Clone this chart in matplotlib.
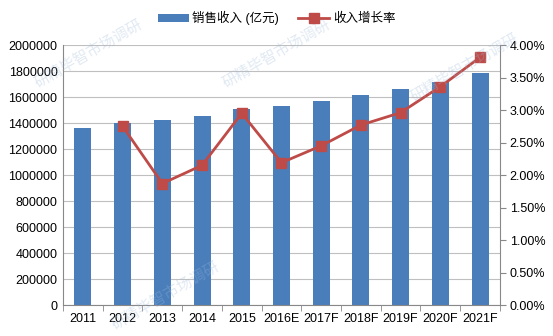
import matplotlib.pyplot as plt
import matplotlib.ticker as mticker
import numpy as np

plt.rcParams['font.family'] = ['Liberation Sans', 'Noto Sans CJK SC', 'DejaVu Sans']

years = ['2011', '2012', '2013', '2014', '2015', '2016E', '2017F', '2018F',
         '2019F', '2020F', '2021F']
revenue = [1364000, 1402000, 1425000, 1456000, 1505000, 1531000, 1569000,
           1615000, 1659000, 1718000, 1782000]
# growth rate in %, first year has no value
growth = [np.nan, 2.75, 1.87, 2.15, 2.95, 2.19, 2.45, 2.77, 2.96, 3.36, 3.81]

bar_color = '#4A7EBB'
line_color = '#BE4B48'

fig = plt.figure(figsize=(5.53, 3.36), dpi=100)
ax = fig.add_axes([0.114, 0.092, 0.79, 0.774])
x = np.arange(len(years))

bars = ax.bar(x, revenue, width=0.43, color=bar_color, zorder=2,
              label='销售收入 (亿元)')
ax.set_ylim(0, 2000000)
ax.set_xlim(-0.5, len(years) - 0.5)
ax.yaxis.set_major_locator(mticker.MultipleLocator(200000))
ax.yaxis.set_major_formatter(mticker.FuncFormatter(lambda v, p: f'{v:.0f}'))
ax.grid(axis='y', color='#BFBFBF', linewidth=0.8, zorder=0)
ax.set_axisbelow(True)

ax.set_xticks(x)
ax.set_xticklabels(years)
ax.set_xticks(np.arange(-0.5, len(years)), minor=True)
ax.tick_params(axis='x', which='major', length=0, pad=6, labelsize=9)
ax.tick_params(axis='x', which='minor', length=4, color='#888888')
ax.tick_params(axis='y', length=0, labelsize=9, pad=4)

for side in ['top', 'right']:
    ax.spines[side].set_visible(False)
ax.spines['left'].set_color('#888888')
ax.spines['bottom'].set_color('#888888')

ax2 = ax.twinx()
line, = ax2.plot(x, growth, color=line_color, linewidth=2, marker='s',
                 markersize=7, zorder=3, label='收入增长率')
ax2.set_ylim(0, 4.0)
ax2.yaxis.set_major_locator(mticker.MultipleLocator(0.5))
ax2.yaxis.set_major_formatter(mticker.FuncFormatter(lambda v, p: f'{v:.2f}%'))
ax2.tick_params(axis='y', length=4, color='#888888', labelsize=9, pad=3)
for side in ['top', 'left', 'bottom']:
    ax2.spines[side].set_visible(False)
ax2.spines['right'].set_color('#888888')

fig.legend(handles=[bars, line], loc='upper center', bbox_to_anchor=(0.5, 1.0),
           ncol=2, frameon=False, fontsize=9, handlelength=2.5,
           columnspacing=1.5, handletextpad=0.3)

# faint watermark text
for (wx, wy) in [(0.16, 0.84), (0.50, 0.84), (0.84, 0.80), (0.30, 0.12)]:
    fig.text(wx, wy, '研精毕智市场调研', fontsize=11, color='#9DB8D8', alpha=0.3,
             rotation=30, ha='center', va='center', family=['Noto Sans CJK SC'])

fig.savefig('out.png', dpi=100)
